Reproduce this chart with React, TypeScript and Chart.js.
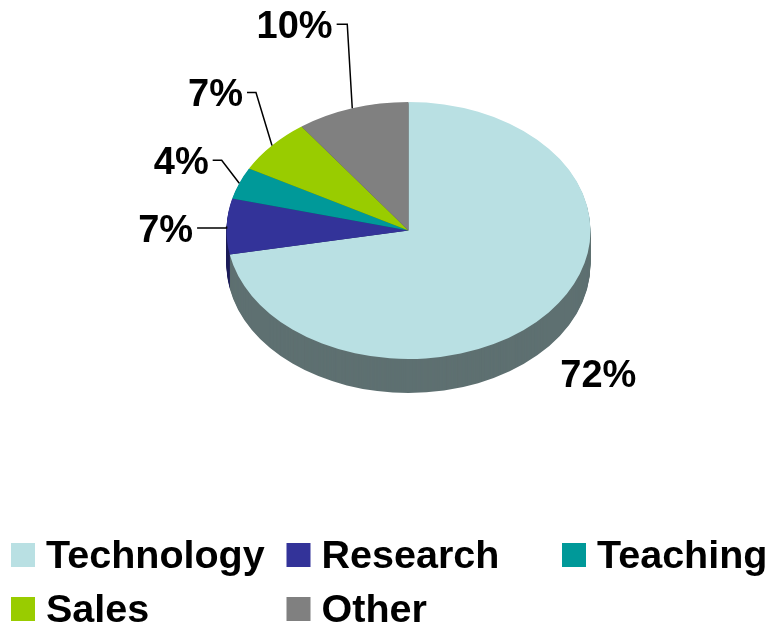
import React, { useEffect, useRef } from "react";
import { Chart, registerables } from "chart.js";

Chart.register(...registerables);

// ---- data ----
const categories = ["Technology", "Research", "Teaching", "Sales", "Other"];
const shares = [72, 7, 4, 7, 10];

// ---- styles ----
const topColors = ["#B9E0E3", "#333399", "#009999", "#99CC00", "#808080"];
const sideColors = ["#5E7071", "#1E1E5A", "#005A5A", "#5A7800", "#4A4A4A"];
const FONT = '"Liberation Sans", Arial, Helvetica, sans-serif';
const TILT = 0.706; // vertical squash of the pie
const DEPTH = 34; // thickness of the pie side in px
const LABEL_SIZE = 38;
const LEG = { left: 11, top: 543, colW: 275.5, rowH: 54, box: 24, gap: 11, size: 39.5, cols: 3 };

// label placement relative to slice rim point (knee offset + elbow length)
const labelLayout: Array<{ dx: number; dy: number; elbow?: number }> = [
  { dx: 49.6, dy: 61 },
  { dx: 0, dy: 1.5, elbow: 29.5 },
  { dx: -17.6, dy: -23, elbow: 9 },
  { dx: -16, dy: -53, elbow: 9 },
  { dx: -5, dy: -84, elbow: 10.6 },
];

const pie3d = {
  id: "pie3d",
  beforeDatasetsDraw(chart: any) {
    const meta = chart.getDatasetMeta(0);
    const ctx = chart.ctx as CanvasRenderingContext2D;
    const c = meta.data[0].getProps(["x", "y"], true);
    ctx.save();
    ctx.translate(c.x, c.y);
    ctx.scale(1, TILT);
    ctx.translate(-c.x, -c.y);
    for (let k = DEPTH; k >= 1; k--) {
      const off = k / TILT;
      meta.data.forEach((el: any, i: number) => {
        const p = el.getProps(["x", "y", "startAngle", "endAngle", "outerRadius"], true);
        ctx.beginPath();
        ctx.moveTo(p.x, p.y + off);
        ctx.arc(p.x, p.y + off, p.outerRadius, p.startAngle, p.endAngle);
        ctx.closePath();
        ctx.fillStyle = sideColors[i];
        ctx.fill();
      });
    }
  },
  afterDatasetsDraw(chart: any) {
    chart.ctx.restore();
  },
};

const pieLabels = {
  id: "pieLabels",
  afterDraw(chart: any) {
    const ctx = chart.ctx as CanvasRenderingContext2D;
    const meta = chart.getDatasetMeta(0);
    const capHalf = (0.716 * LABEL_SIZE) / 2;
    ctx.save();
    ctx.font = `bold ${LABEL_SIZE}px ${FONT}`;
    ctx.fillStyle = "#000";
    ctx.strokeStyle = "#000";
    ctx.lineWidth = 1.5;
    ctx.textBaseline = "alphabetic";
    meta.data.forEach((el: any, i: number) => {
      const p = el.getProps(["x", "y", "startAngle", "endAngle", "outerRadius"], true);
      const mid = (p.startAngle + p.endAngle) / 2;
      const rx = p.x + p.outerRadius * Math.cos(mid);
      const ry = p.y + p.outerRadius * Math.sin(mid) * TILT;
      const L = labelLayout[i];
      const text = `${shares[i]}%`;
      if (L.elbow == null) {
        ctx.textAlign = "center";
        ctx.fillText(text, rx + L.dx, ry + L.dy + capHalf);
      } else {
        const kx = rx + L.dx;
        const ky = ry + L.dy;
        ctx.beginPath();
        ctx.moveTo(rx, ry);
        ctx.lineTo(kx, ky);
        ctx.lineTo(kx - L.elbow, ky);
        ctx.stroke();
        ctx.textAlign = "right";
        ctx.fillText(text, kx - L.elbow - 4, ky + capHalf);
      }
    });
    ctx.restore();
  },
};

const legendGrid = {
  id: "legendGrid",
  afterDraw(chart: any) {
    const ctx = chart.ctx as CanvasRenderingContext2D;
    ctx.save();
    ctx.font = `bold ${LEG.size}px ${FONT}`;
    ctx.textAlign = "left";
    ctx.textBaseline = "alphabetic";
    categories.forEach((name, i) => {
      const col = i % LEG.cols;
      const row = Math.floor(i / LEG.cols);
      const bx = LEG.left + col * LEG.colW;
      const by = LEG.top + row * LEG.rowH;
      ctx.fillStyle = topColors[i];
      ctx.fillRect(bx, by, LEG.box, LEG.box);
      ctx.fillStyle = "#000";
      ctx.fillText(name, bx + LEG.box + LEG.gap, by + LEG.box + 0.7);
    });
    ctx.restore();
  },
};

export default function App() {
  const ref = useRef<HTMLCanvasElement>(null);
  useEffect(() => {
    const chart = new Chart(ref.current as HTMLCanvasElement, {
      type: "pie",
      data: {
        labels: categories,
        datasets: [
          {
            data: shares,
            backgroundColor: topColors,
            borderWidth: 0,
            hoverOffset: 0,
            clip: false,
          } as any,
        ],
      },
      options: {
        responsive: false,
        animation: false,
        devicePixelRatio: 1,
        events: [],
        layout: { padding: { left: 226.5, right: 177.5, top: 48.5, bottom: 212.5 } },
        plugins: { legend: { display: false }, tooltip: { enabled: false } },
      },
      plugins: [pie3d, pieLabels, legendGrid],
    });
    return () => chart.destroy();
  }, []);
  return (
    <div style={{ position: "absolute", left: 0, top: 0, width: 768, height: 625, background: "#fff" }}>
      <canvas ref={ref} width={768} height={625} style={{ display: "block" }} />
    </div>
  );
}
